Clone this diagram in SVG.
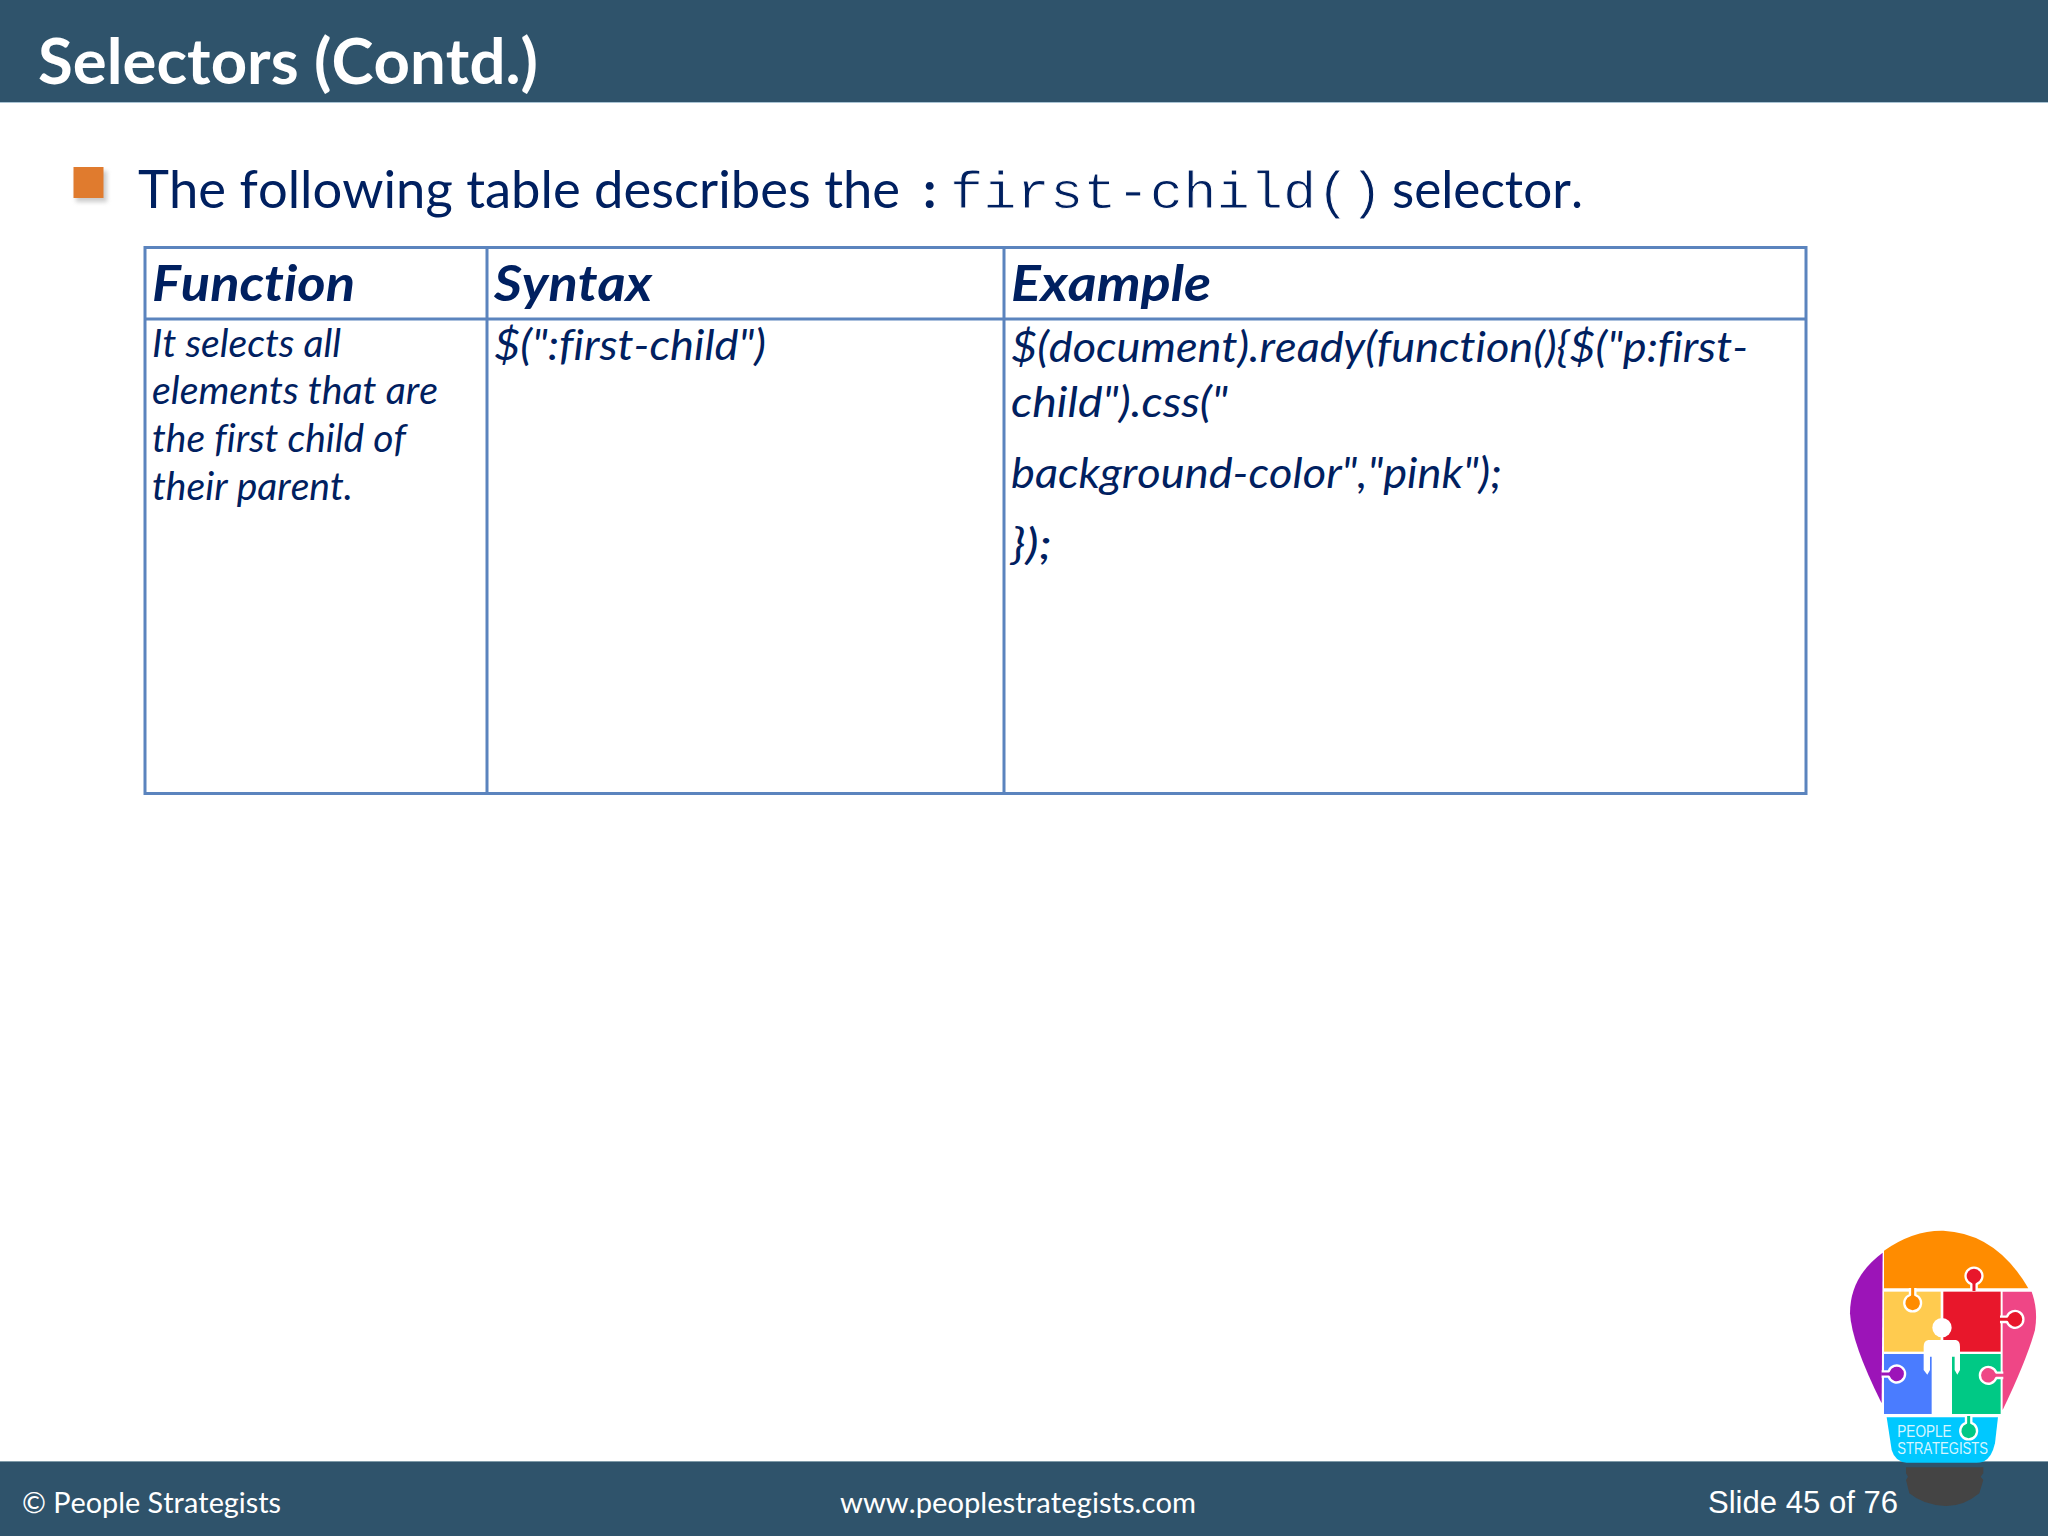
<svg xmlns="http://www.w3.org/2000/svg" width="2048" height="1536" viewBox="0 0 2048 1536">
<style>
text{font-variant-ligatures:none;font-kerning:none}
.c{font-family:"Lato","Open Sans","Liberation Sans",sans-serif;fill:#002060}
.i{font-style:italic}
.h{font-style:italic;font-weight:700;font-size:50px}
.b{font-size:38px}
.e{font-size:42px}
.f{font-family:"Lato","Open Sans",sans-serif;fill:#fff;font-size:29px}
.m{font-family:"Liberation Mono",monospace;fill:#002060;font-size:52px;stroke:#fff;stroke-width:.9px}
.g{fill:none;stroke:#5b84be;stroke-width:3}
.k{stroke:#fff;stroke-width:7;stroke-linejoin:round}
.l{font-family:"Liberation Sans",sans-serif;font-size:48px;fill:#fff;fill-opacity:.85}
</style>
<defs>
<filter id="s" x="-30%" y="-30%" width="170%" height="170%"><feGaussianBlur stdDeviation="2"/></filter>
<path id="t" d="M-8 45V24A25.300 25.300 0 1 1 8 24V45"/>
</defs>
<rect width="2048" height="1536" fill="#fff"/>
<g id="header">
<rect width="2048" height="102" fill="#2f536b"/>
<rect y="102" width="2048" height="1" fill="#a9c3d3"/>
<text x="38" y="84" textLength="500" lengthAdjust="spacingAndGlyphs" style="font-family:Lato,'Open Sans',sans-serif;font-weight:700;font-size:63px;fill:#fff">Selectors (Contd.)</text>
</g>
<g id="intro">
<rect x="76" y="171" width="31" height="31" fill="#999" opacity=".5" filter="url(#s)"/>
<rect x="73.500" y="167" width="30" height="31" fill="#e07b2e"/>
<text class="c" x="138" y="207.500" font-size="52" textLength="762" lengthAdjust="spacingAndGlyphs">The following table describes the</text>
<text class="c" x="923" y="208" font-size="52" font-weight="700">:</text>
<text class="m" x="950" y="208" textLength="433" lengthAdjust="spacingAndGlyphs">first-child()</text>
<text class="c" x="1392" y="207.500" font-size="52" textLength="191" lengthAdjust="spacingAndGlyphs">selector.</text>
</g>
<g id="table">
<rect class="g" x="145" y="247.500" width="1661" height="546"/>
<path class="g" d="M145 319H1806M487 247V793M1004 247V793"/>
<text class="c h" x="152" y="301" textLength="203" lengthAdjust="spacingAndGlyphs">Function</text>
<text class="c h" x="494" y="301" textLength="158" lengthAdjust="spacingAndGlyphs">Syntax</text>
<text class="c h" x="1011" y="301" textLength="200" lengthAdjust="spacingAndGlyphs">Example</text>
<text class="c i b" x="152" y="356.500" textLength="189" lengthAdjust="spacingAndGlyphs">It selects all</text>
<text class="c i b" x="152" y="404" textLength="286" lengthAdjust="spacingAndGlyphs">elements that are</text>
<text class="c i b" x="152" y="452" textLength="254" lengthAdjust="spacingAndGlyphs">the first child of</text>
<text class="c i b" x="152" y="500" textLength="201" lengthAdjust="spacingAndGlyphs">their parent.</text>
<text class="c i e" x="494" y="360" textLength="272" lengthAdjust="spacingAndGlyphs">$(":first-child")</text>
<text class="c i e" x="1011" y="361.500" textLength="737" lengthAdjust="spacingAndGlyphs">$(document).ready(function(){$("p:first-</text>
<text class="c i e" x="1011" y="417" textLength="217" lengthAdjust="spacingAndGlyphs">child").css("</text>
<text class="c i e" x="1011" y="488" textLength="491" lengthAdjust="spacingAndGlyphs">background-color","pink");</text>
<text class="c i e" x="1011" y="559" textLength="41" lengthAdjust="spacingAndGlyphs">});</text>
</g>
<g id="footer">
<rect y="1461" width="2048" height="75" fill="#2f536b"/>
<rect y="1461" width="2048" height="1" fill="#7f9aa8"/>
<text class="f" x="22" y="1512.500" textLength="259" lengthAdjust="spacingAndGlyphs">© People Strategists</text>
<text class="f" x="840" y="1512.500" textLength="356" lengthAdjust="spacingAndGlyphs">www.peoplestrategists.com</text>
<text x="1708" y="1513" textLength="190" lengthAdjust="spacingAndGlyphs" style="font-family:'Liberation Sans',sans-serif;font-size:31px;fill:#fff">Slide 45 of 76</text>
</g>
<g id="logo" transform="translate(1820 1210) scale(.3333)">
<path fill="#444" d="M258 772H490V790L482 800 490 810 478 850Q430 890 375 888Q310 885 268 850L258 810 264 800 258 790Z"/>
<path fill="#9c14b8" d="M188 128Q90 200 90 310Q95 400 185 580Z"/>
<path fill="#ef4686" d="M548 245H635Q655 300 645 360Q620 450 548 600Z"/>
<path fill="#ff8c00" d="M192 235V122Q280 60 370 62Q530 70 625 235Z"/>
<rect fill="#ffcb4f" x="192" y="245" width="170" height="180"/>
<rect fill="#e8172b" x="370" y="245" width="172" height="180"/>
<rect fill="#4a7cff" x="192" y="432" width="143" height="180"/>
<rect fill="#00c985" x="395" y="432" width="147" height="180"/>
<path fill="#00c8ff" d="M200 622H534L525 700Q515 745 490 755Q480 758 470 758H260Q225 755 215 720Z"/>
<use class="k" fill="#ff8c00" href="#t" transform="translate(278 279) rotate(180)"/>
<use class="k" fill="#e8172b" href="#t" transform="translate(462 198)"/>
<use class="k" fill="#e8172b" href="#t" transform="translate(585 328) rotate(90)"/>
<use class="k" fill="#9c14b8" href="#t" transform="translate(230 492) rotate(90)"/>
<use class="k" fill="#ef4686" href="#t" transform="translate(505 496) rotate(-90)"/>
<use class="k" fill="#00c985" href="#t" transform="translate(446 663) rotate(180)"/>
<g fill="#fff">
<circle cx="366" cy="353" r="29"/>
<path d="M325 390H408Q420 392 420 410V480L412 494 404 480V440H396V612H336V440H330V480L322 494 311 480V410Q311 392 325 390Z"/>
</g>
<text class="l" x="232" y="680" textLength="163" lengthAdjust="spacingAndGlyphs">PEOPLE</text>
<text class="l" x="232" y="731" textLength="272" lengthAdjust="spacingAndGlyphs">STRATEGISTS</text>
</g>
</svg>
